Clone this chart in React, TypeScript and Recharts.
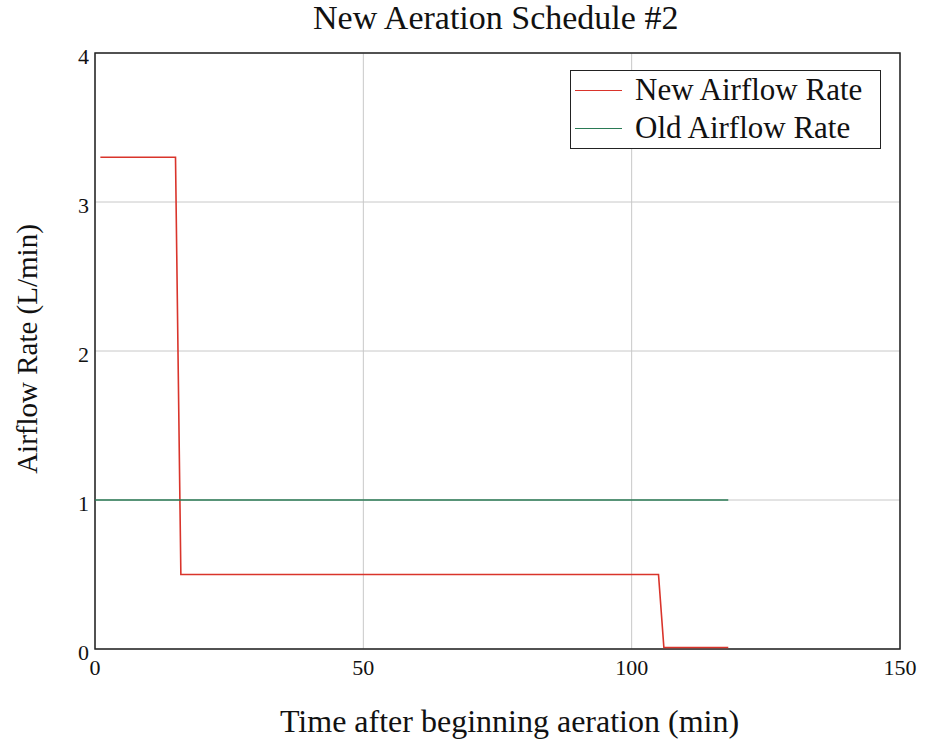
import { FC } from "react";
import {
  LineChart,
  Line,
  XAxis,
  YAxis,
  CartesianGrid,
  ReferenceArea,
} from "recharts";

const newTimes = [1, 15, 16, 105, 106, 118];
const newRates = [3.3, 3.3, 0.5, 0.5, 0.01, 0.01];
const oldTimes = [0, 118];
const oldRates = [1, 1];
const xTicks = [0, 50, 100, 150];
const yTicks = [0, 1, 2, 3, 4];

const newData = newTimes.map((t, i) => ({ t, rate: newRates[i] }));
const oldData = oldTimes.map((t, i) => ({ t, rate: oldRates[i] }));

const serif = '"Liberation Serif", "Times New Roman", serif';
const NEW_COLOR = "#d9342b";
const OLD_COLOR = "#2a7a55";

const legendItems = [
  { name: "New Airflow Rate", color: NEW_COLOR },
  { name: "Old Airflow Rate", color: OLD_COLOR },
];

const LegendBox: FC = () => (
  <div
    style={{
      position: "absolute",
      left: 570,
      top: 70,
      border: "1.5px solid #222",
      background: "#fff",
      width: 311,
      height: 79,
      boxSizing: "border-box",
      fontFamily: serif,
      fontSize: 31,
      color: "#111",
      padding: "0 0 0 4px",
    }}
  >
    {legendItems.map((e) => (
      <div key={e.name} style={{ display: "flex", alignItems: "center", height: 38, lineHeight: "38px" }}>
        <span style={{ display: "inline-block", width: 47, borderTop: `1.5px solid ${e.color}`, marginRight: 13 }} />
        {e.name}
      </div>
    ))}
  </div>
);

const App: FC = () => {
  return (
    <div style={{ position: "absolute", left: 0, top: 0, width: 925, height: 746, background: "#fff" }}>
      <div
        style={{
          position: "absolute",
          top: 0,
          left: 313,
          width: 365,
          textAlign: "center",
          whiteSpace: "nowrap",
          fontFamily: serif,
          fontSize: 34,
          lineHeight: "36px",
          color: "#111",
        }}
      >
        New Aeration Schedule #2
      </div>
      <LineChart
        width={925}
        height={746}
        margin={{ top: 53, right: 25, left: 0, bottom: 57 }}
      >
        <CartesianGrid stroke="#c8c8c8" strokeWidth={1} />
        <XAxis
          dataKey="t"
          type="number"
          domain={[0, 150]}
          ticks={xTicks}
          tickLine={false}
          tickSize={0}
          axisLine={false}
          height={40}
          tick={{ fontFamily: serif, fontSize: 22, fill: "#111" }}
          tickMargin={10}
          allowDataOverflow
        />
        <YAxis
          type="number"
          domain={[0, 4]}
          ticks={yTicks}
          tickLine={false}
          tickSize={0}
          axisLine={false}
          width={95}
          tick={{ fontFamily: serif, fontSize: 22, fill: "#111", dy: 3 }}
          tickMargin={6}
        />
        <ReferenceArea x1={0} x2={150} y1={0} y2={4} fill="none" stroke="#222" strokeWidth={1.5} strokeOpacity={1} />
        <Line
          data={newData}
          dataKey="rate"
          type="linear"
          stroke={NEW_COLOR}
          strokeWidth={1.6}
          dot={false}
          isAnimationActive={false}
        />
        <Line
          data={oldData}
          dataKey="rate"
          type="linear"
          stroke={OLD_COLOR}
          strokeWidth={1.3}
          dot={false}
          isAnimationActive={false}
        />
      </LineChart>
      <LegendBox />
      <div
        style={{
          position: "absolute",
          top: 703,
          left: 97,
          width: 825,
          textAlign: "center",
          whiteSpace: "nowrap",
          fontFamily: serif,
          fontSize: 32,
          lineHeight: "36px",
          color: "#111",
        }}
      >
        Time after beginning aeration (min)
      </div>
      <div
        style={{
          position: "absolute",
          left: 27,
          top: 349,
          transform: "translate(-50%, -50%) rotate(-90deg)",
          whiteSpace: "nowrap",
          fontFamily: serif,
          fontSize: 29,
          color: "#111",
        }}
      >
        Airflow Rate (L/min)
      </div>
    </div>
  );
};

export default App;
